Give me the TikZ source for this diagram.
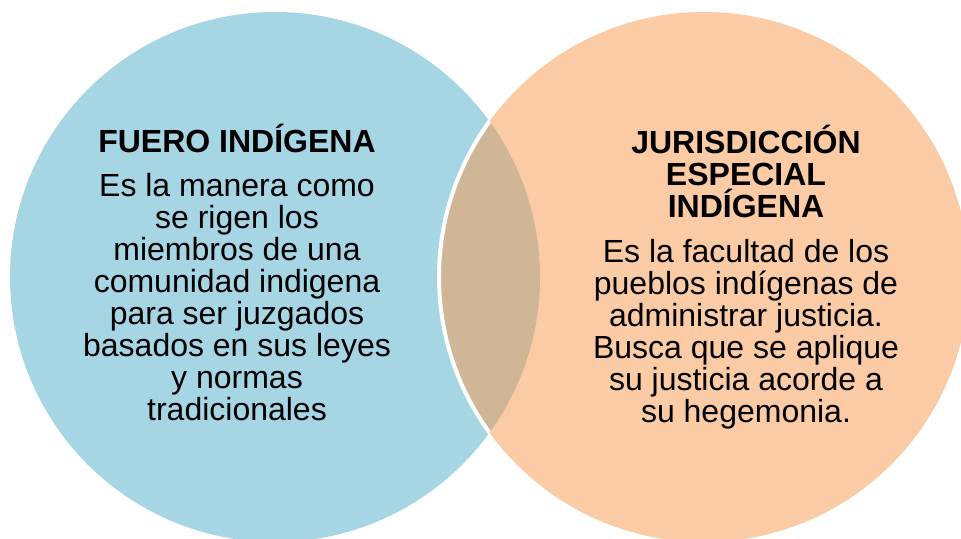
\documentclass[tikz,border=0pt]{standalone}
\usepackage{fontspec}
\setmainfont{Liberation Sans}
\definecolor{cblue}{HTML}{A6D5E3}
\definecolor{cpeach}{HTML}{FACBA5}
\definecolor{ctan}{HTML}{CFB696}
\begin{document}
\begin{tikzpicture}[x=0.75pt,y=-0.75pt,
  txt/.style={font=\fontsize{24}{24.1}\selectfont, inner sep=0pt, anchor=base},
  ttl/.style={font=\fontsize{24}{24.1}\selectfont\bfseries, inner sep=0pt, anchor=base}]
\useasboundingbox (0,0) rectangle (961,539);
\clip (0,0) rectangle (961,539);
\coordinate (cl) at (275,277);
\coordinate (cr) at (704,277);
\fill[cblue] (cl) circle[radius=265];
\fill[cpeach] (cr) circle[radius=265];
\begin{scope}
  \clip (cl) circle[radius=265];
  \fill[ctan] (cr) circle[radius=265];
  \draw[white, line width=3pt] (cr) circle[radius=265];
\end{scope}
\lineskiplimit=-100pt
\node[ttl] (t1) at (237,152) {FUERO INDÍGENA};
\node[txt] (b1) at (237,196) {\parbox[t]{300pt}{\centering\lineskiplimit=-100pt
Es la manera como\\
se rigen los\\
miembros de una\\
comunidad indigena\\
para ser juzgados\\
basados en sus leyes\\
y normas\\
tradicionales}};
\node[ttl] (t2) at (746,153) {\parbox[t]{300pt}{\centering\lineskiplimit=-100pt
JURISDICCIÓN\\
ESPECIAL\\
INDÍGENA}};
\node[txt] (b2) at (746,262) {\parbox[t]{300pt}{\centering\lineskiplimit=-100pt
Es la facultad de los\\
pueblos indígenas de\\
administrar justicia.\\
Busca que se aplique\\
su justicia acorde a\\
su hegemonia.}};
\end{tikzpicture}
\end{document}
